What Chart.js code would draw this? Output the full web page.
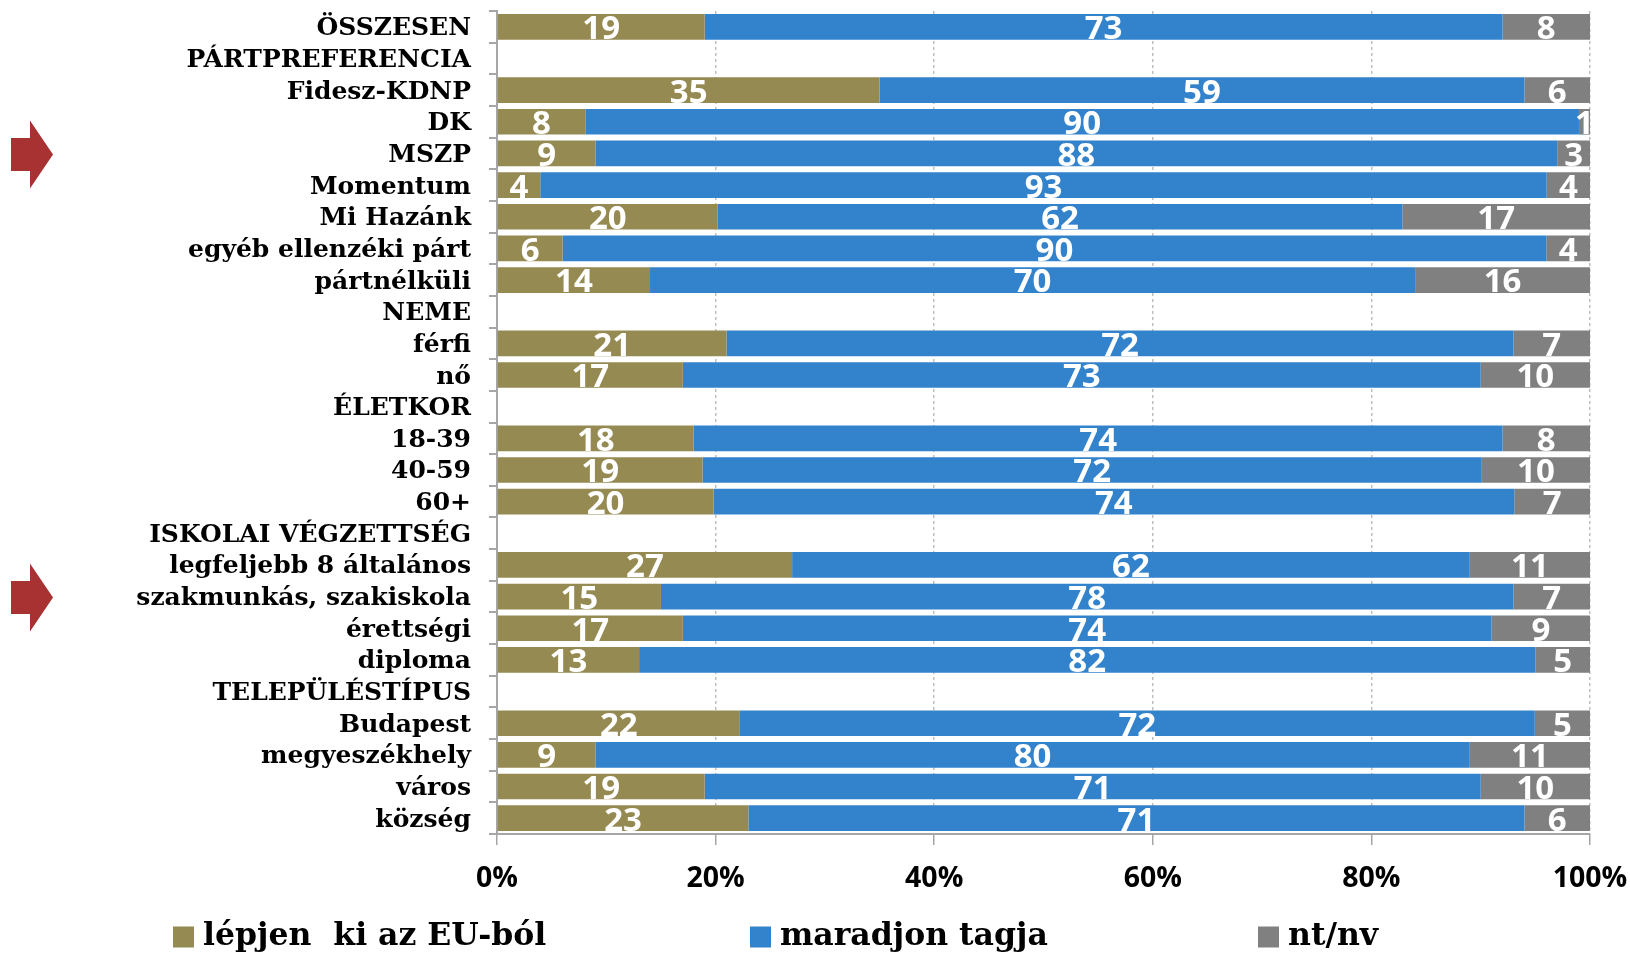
<!DOCTYPE html>
<html lang="hu">
<head>
<meta charset="UTF-8">
<title>EU-tagság</title>
<script src="https://cdn.jsdelivr.net/npm/chart.js@4"></script>
<style>
  html, body { margin: 0; padding: 0; background: #fff; }
  #wrap { width: 1630px; height: 954px; }
</style>
</head>
<body>
<div id="wrap"><canvas id="chart" width="1630" height="954"></canvas></div>
<script>
// categories, top to bottom (header rows have no bars)
const categories = [
  'ÖSSZESEN', 'PÁRTPREFERENCIA', 'Fidesz-KDNP', 'DK', 'MSZP', 'Momentum', 'Mi Hazánk',
  'egyéb ellenzéki párt', 'pártnélküli', 'NEME', 'férfi', 'nő', 'ÉLETKOR', '18-39', '40-59',
  '60+', 'ISKOLAI VÉGZETTSÉG', 'legfeljebb 8 általános', 'szakmunkás, szakiskola', 'érettségi',
  'diploma', 'TELEPÜLÉSTÍPUS', 'Budapest', 'megyeszékhely', 'város', 'község'
];
const leave = [19, null, 35, 8, 9, 4, 20, 6, 14, null, 21, 17, null, 18, 19, 20, null, 27, 15, 17, 13, null, 22, 9, 19, 23];
const stay  = [73, null, 59, 90, 88, 93, 62, 90, 70, null, 72, 73, null, 74, 72, 74, null, 62, 78, 74, 82, null, 72, 80, 71, 71];
const dunno = [8, null, 6, 1, 3, 4, 17, 4, 16, null, 7, 10, null, 8, 10, 7, null, 11, 7, 9, 5, null, 5, 11, 10, 6];
const seriesNames = ['lépjen  ki az EU-ból', 'maradjon tagja', 'nt/nv'];
const seriesColors = ['#968a53', '#3383cc', '#808080'];
const xTickLabels = ['0%', '20%', '40%', '60%', '80%', '100%'];
const markedRows = ['MSZP', 'szakmunkás, szakiskola'];

const rawSeries = [leave, stay, dunno];

// 100% stacked, like the original
function share(arr) {
  return arr.map((v, i) => {
    if (v == null) return null;
    const total = leave[i] + stay[i] + dunno[i];
    return v / total * 100;
  });
}

const serifFamily = "'DejaVu Serif', serif";

const valueLabels = {
  id: 'valueLabels',
  afterDatasetsDraw(chart) {
    const ctx = chart.ctx;
    ctx.save();
    ctx.fillStyle = '#ffffff';
    ctx.font = "bold 33px 'Open Sans', sans-serif";
    ctx.textAlign = 'center';
    ctx.textBaseline = 'middle';
    chart.data.datasets.forEach((ds, d) => {
      const meta = chart.getDatasetMeta(d);
      meta.data.forEach((el, i) => {
        const raw = rawSeries[d][i];
        if (raw == null) return;
        ctx.fillText(String(raw), (el.x + el.base) / 2, el.y + 3);
      });
    });
    ctx.restore();
  }
};

const sideArrows = {
  id: 'sideArrows',
  afterDraw(chart) {
    const ctx = chart.ctx;
    const y = chart.scales.y;
    ctx.save();
    ctx.fillStyle = '#a83232';
    markedRows.forEach(name => {
      const cy = y.getPixelForValue(categories.indexOf(name)) + 1;
      ctx.beginPath();
      ctx.moveTo(11, cy - 16.5);
      ctx.lineTo(30, cy - 16.5);
      ctx.lineTo(30, cy - 34);
      ctx.lineTo(53, cy);
      ctx.lineTo(30, cy + 34);
      ctx.lineTo(30, cy + 16.5);
      ctx.lineTo(11, cy + 16.5);
      ctx.closePath();
      ctx.fill();
    });
    ctx.restore();
  }
};

const bottomLegend = {
  id: 'bottomLegend',
  afterDraw(chart, args, opts) {
    const ctx = chart.ctx;
    ctx.save();
    ctx.font = 'bold 31.5px ' + serifFamily;
    ctx.textBaseline = 'middle';
    ctx.textAlign = 'left';
    chart.data.datasets.forEach((ds, d) => {
      const x = opts.starts[d];
      ctx.fillStyle = ds.backgroundColor;
      ctx.fillRect(x, opts.y - 10.5, 21, 21);
      ctx.fillStyle = '#000';
      ctx.fillText(ds.label, x + 30, opts.y);
    });
    ctx.restore();
  }
};

new Chart(document.getElementById('chart'), {
  type: 'bar',
  data: {
    labels: categories,
    datasets: rawSeries.map((arr, d) => ({
      label: seriesNames[d],
      data: share(arr),
      backgroundColor: seriesColors[d],
      borderWidth: 0,
      barPercentage: 0.81,
      categoryPercentage: 1
    }))
  },
  options: {
    indexAxis: 'y',
    responsive: false,
    animation: false,
    layout: { padding: { top: 11, right: 40, bottom: 0, left: 0 } },
    plugins: {
      legend: { display: false },
      tooltip: { enabled: false },
      bottomLegend: { y: 937, starts: [173, 750, 1258] }
    },
    scales: {
      x: {
        stacked: true,
        min: 0,
        max: 100,
        ticks: {
          stepSize: 20,
          color: '#000',
          padding: 17,
          font: { family: "'Open Sans', sans-serif", weight: 'bold', size: 28.5 },
          callback: (v, i) => xTickLabels[i]
        },
        grid: {
          color: ctx => ctx.index === 0 ? 'rgba(0,0,0,0)' : '#bfbfbf',
          lineWidth: 1.5,
          tickColor: '#a6a6a6',
          tickLength: 11,
          tickBorderDash: []
        },
        border: { display: true, color: '#a6a6a6', width: 2, dash: [3, 3] },
        afterFit: scale => {
          scale.height = 120;
          scale.paddingLeft = 0;
          scale.paddingRight = 0;
        }
      },
      y: {
        stacked: true,
        ticks: {
          color: '#000',
          padding: 18,
          labelOffset: 2,
          autoSkip: false,
          font: { family: serifFamily, weight: 'bold', size: 25 }
        },
        grid: {
          drawOnChartArea: false,
          drawTicks: true,
          tickLength: 8,
          color: '#a6a6a6',
          lineWidth: 2
        },
        border: { display: true, color: '#a6a6a6', width: 2 },
        afterFit: scale => {
          scale.width = 497;
          scale.paddingTop = 0;
          scale.paddingBottom = 0;
        }
      }
    }
  },
  plugins: [valueLabels, sideArrows, bottomLegend]
});
</script>
</body>
</html>
